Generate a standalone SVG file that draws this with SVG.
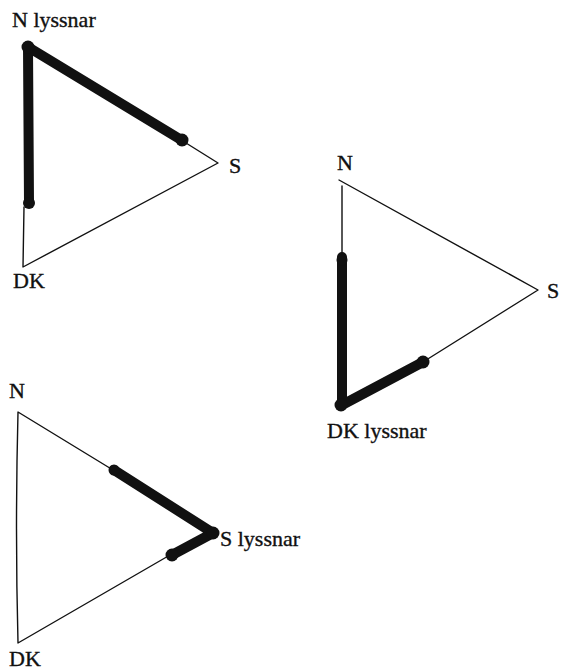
<svg xmlns="http://www.w3.org/2000/svg" width="562" height="672" viewBox="0 0 562 672">
<style>
.thin{fill:none;stroke:#111;stroke-width:1.4;stroke-linecap:round;stroke-linejoin:round}
.thick{fill:none;stroke:#111;stroke-width:10;stroke-linecap:round;stroke-linejoin:round}
.blob{fill:#111}
.lbl{font-family:"Liberation Serif","Times New Roman",serif;font-size:22px;fill:#111;stroke:#111;stroke-width:0.35}
</style>
<rect width="562" height="672" fill="#fff"/>
<g id="connectors">
  <!-- Triangle 1: N lyssnar -->
  <path class="thin" d="M186,143 L218,163 L23,267 L24,207"/>
  <path class="thick" d="M29,203 L28,47 L183,141"/>
  <circle class="blob" cx="29" cy="203" r="6"/>
  <circle class="blob" cx="182" cy="140" r="6.5"/>
  <circle class="blob" cx="28" cy="47" r="6.5"/>
  <!-- Triangle 2: DK lyssnar -->
  <path class="thin" d="M342,257 L342,186 M339,180 L538,290 L423,362"/>
  <path class="thick" d="M342,257 L342,405 L423,362"/>
  <circle class="blob" cx="342" cy="260" r="5.5"/>
  <circle class="blob" cx="423" cy="362" r="6.5"/>
  <circle class="blob" cx="341" cy="405" r="6.5"/>
  <!-- Triangle 3: S lyssnar -->
  <path class="thin" d="M113,470 L18,412 Q15,530 18,643 L170,555"/>
  <path class="thick" d="M114,470 L213,533 L172,555"/>
  <circle class="blob" cx="114" cy="470" r="5.5"/>
  <circle class="blob" cx="213" cy="533" r="6.5"/>
  <circle class="blob" cx="172" cy="555" r="6.5"/>
</g>
<g id="t1-N"><text class="lbl" x="12" y="27">N lyssnar</text></g>
<g id="t1-S"><text class="lbl" x="229" y="173">S</text></g>
<g id="t1-DK"><text class="lbl" x="13" y="288">DK</text></g>
<g id="t2-N"><text class="lbl" x="337" y="170">N</text></g>
<g id="t2-S"><text class="lbl" x="547" y="298">S</text></g>
<g id="t2-DK"><text class="lbl" x="327" y="438">DK lyssnar</text></g>
<g id="t3-N"><text class="lbl" x="9" y="398">N</text></g>
<g id="t3-S"><text class="lbl" x="220" y="546">S lyssnar</text></g>
<g id="t3-DK"><text class="lbl" x="9" y="666">DK</text></g>
</svg>
